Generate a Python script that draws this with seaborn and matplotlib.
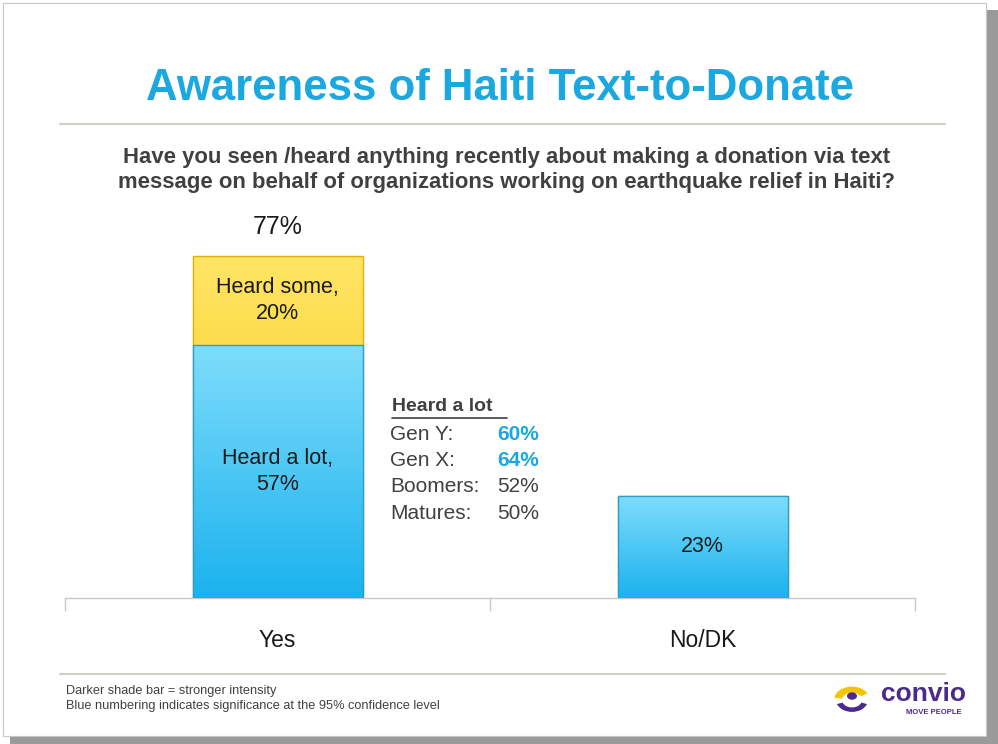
import numpy as np
import pandas as pd
import matplotlib
matplotlib.use("Agg")
import matplotlib.pyplot as plt
import matplotlib.patches as mpatches
import seaborn as sns

# ---- data ----
categories = ["Yes", "No/DK"]
heard_a_lot = [57, 23]
heard_some = [20, 0]
totals = [77, 23]
gen_labels = ["Gen Y:", "Gen X:", "Boomers:", "Matures:"]
gen_values = ["60%", "64%", "52%", "50%"]
gen_significant = [True, True, False, False]

sns.set_theme(style="white")
plt.rcParams['font.family'] = ['Liberation Sans', 'DejaVu Sans']

fig = plt.figure(figsize=(9.98, 7.44), dpi=100)
W, H = 998, 744

def fx(px):
    return px / W

def fy(py):
    return 1 - py / H

# slide frame with shadow
fig.patches.append(mpatches.Rectangle((fx(10), fy(744)), fx(988), fy(10) - fy(744),
                                      transform=fig.transFigure, facecolor="#9a9a9a", edgecolor="none", zorder=-3))
fig.patches.append(mpatches.Rectangle((fx(3), fy(736)), fx(983), fy(3) - fy(736),
                                      transform=fig.transFigure, facecolor="white", edgecolor="#c8c8c8",
                                      linewidth=0.8, zorder=-2))

# axes
ax = fig.add_axes([fx(65), fy(598), fx(915) - fx(65), fy(154) - fy(598)])
ax.set_facecolor("none")
ax.set_zorder(2)

df_tot = pd.DataFrame({"cat": categories, "val": totals})
df_low = pd.DataFrame({"cat": categories, "val": heard_a_lot})

sns.barplot(data=df_tot, x="cat", y="val", color="#FFD633", width=0.4, saturation=1,
            edgecolor="#E5B000", linewidth=1, ax=ax, zorder=2)
sns.barplot(data=df_low, x="cat", y="val", color="#3CC6F5", width=0.4, saturation=1,
            edgecolor="#2A9FD0", linewidth=1, ax=ax, zorder=3)

ax.set_xlim(-0.5, 1.5)
ax.set_ylim(0, 100)

# gradients inside bars
blue_cmap = matplotlib.colors.LinearSegmentedColormap.from_list("b", ["#1BB2EE", "#7FDDFB"])
yel_cmap = matplotlib.colors.LinearSegmentedColormap.from_list("y", ["#F7C400", "#FFE566"])
grad = np.linspace(0, 1, 256).reshape(-1, 1)
for i, p in enumerate(list(ax.patches)):
    x0, y0 = p.get_x(), p.get_y()
    w, h = p.get_width(), p.get_height()
    if h <= 0:
        continue
    cmap = yel_cmap if i < len(categories) else blue_cmap
    im = ax.imshow(grad, cmap=cmap, origin="lower", aspect="auto",
                   extent=[x0, x0 + w, y0, y0 + h], zorder=p.get_zorder() + 0.1)
    im.set_clip_path(p)
    p.set_facecolor("none")
    p.set_zorder(p.get_zorder() + 0.2)

ax.set_xlim(-0.5, 1.5)
ax.set_ylim(0, 100)

# labels on bars
ax.text(0, heard_a_lot[0] + heard_some[0] / 2, f"Heard some,\n{heard_some[0]}%", ha="center", va="center",
        fontsize=15.5, color="#1a1a1a", zorder=10, linespacing=1.3)
ax.text(0, heard_a_lot[0] / 2, f"Heard a lot,\n{heard_a_lot[0]}%", ha="center", va="center",
        fontsize=15.5, color="#1a1a1a", zorder=10, linespacing=1.3)
ax.text(1, heard_a_lot[1] / 2, f"{heard_a_lot[1]}%", ha="center", va="center",
        fontsize=15.5, color="#1a1a1a", zorder=10)
ax.text(0, totals[0] + 3.8, f"{totals[0]}%", ha="center", va="bottom", fontsize=18, color="#1a1a1a")

# axis styling
for s in ["top", "right", "left"]:
    ax.spines[s].set_visible(False)
ax.spines["bottom"].set_color("#c8c8c8")
ax.spines["bottom"].set_linewidth(1)
ax.set_yticks([])
ax.set_xlabel("")
ax.set_ylabel("")
ax.set_xticks([0, 1])
ax.set_xticklabels(categories, fontsize=16.5, color="#1a1a1a")
ax.tick_params(axis="x", which="major", length=0, pad=22)
ax.set_xticks([-0.5, 0.5, 1.5], minor=True)
ax.tick_params(axis="x", which="minor", length=9, width=1, color="#c8c8c8", direction="out", bottom=True)

# title and subtitle
fig.text(fx(500), fy(88), "Awareness of Haiti Text-to-Donate", ha="center", va="center",
         fontsize=31.5, fontweight="bold", color="#1BA8E0")
fig.add_artist(plt.Line2D([fx(60), fx(945)], [fy(124), fy(124)], color="#cfcfc0", linewidth=1.5))
fig.text(fx(507), fy(170), "Have you seen /heard anything recently about making a donation via text\n"
         "message on behalf of organizations working on earthquake relief in Haiti?",
         ha="center", va="center", fontsize=15.9, fontweight="bold", color="#404040", linespacing=1.25)

# side annotation
fig.text(fx(392), fy(407), "Heard a lot", ha="left", va="center", fontsize=14, fontweight="bold",
         color="#404040")
fig.add_artist(plt.Line2D([fx(392), fx(507)], [fy(418), fy(418)], color="#404040", linewidth=1.2))
for k, (lab, val, sig) in enumerate(zip(gen_labels, gen_values, gen_significant)):
    yy = fy(434 + k * 26.5)
    fig.text(fx(390), yy, lab, ha="left", va="center", fontsize=15, color="#404040")
    fig.text(fx(539), yy, val, ha="right", va="center", fontsize=15,
             color="#1BA8E0" if sig else "#404040", fontweight="bold" if sig else "normal")

# footer
fig.add_artist(plt.Line2D([fx(60), fx(945)], [fy(674), fy(674)], color="#cfcfc0", linewidth=1.5))
fig.text(fx(66), fy(691), "Darker shade bar = stronger intensity", ha="left", va="center",
         fontsize=9.2, color="#404040")
fig.text(fx(66), fy(706), "Blue numbering indicates significance at the 95% confidence level",
         ha="left", va="center", fontsize=9.2, color="#404040")

# logo
fig.text(fx(966), fy(694), "convio", ha="right", va="center", fontsize=19, fontweight="bold",
         color="#4B2A8C")
fig.text(fx(962), fy(713), "MOVE PEOPLE", ha="right", va="center", fontsize=5.5, fontweight="bold",
         color="#4B2A8C")
fig.patches.append(mpatches.Wedge((fx(852), fy(700)), 0.018, 30, 170, width=0.008,
                                  transform=fig.transFigure, facecolor="#F5C400", edgecolor="none", zorder=3))
fig.patches.append(mpatches.Wedge((fx(852), fy(700)), 0.016, 200, 340, width=0.006,
                                  transform=fig.transFigure, facecolor="#4B2A8C", edgecolor="none", zorder=3))
fig.patches.append(mpatches.Circle((fx(852), fy(696)), 0.005, transform=fig.transFigure,
                                   facecolor="#4B2A8C", edgecolor="none", zorder=3))

fig.savefig("out.png", dpi=100)
